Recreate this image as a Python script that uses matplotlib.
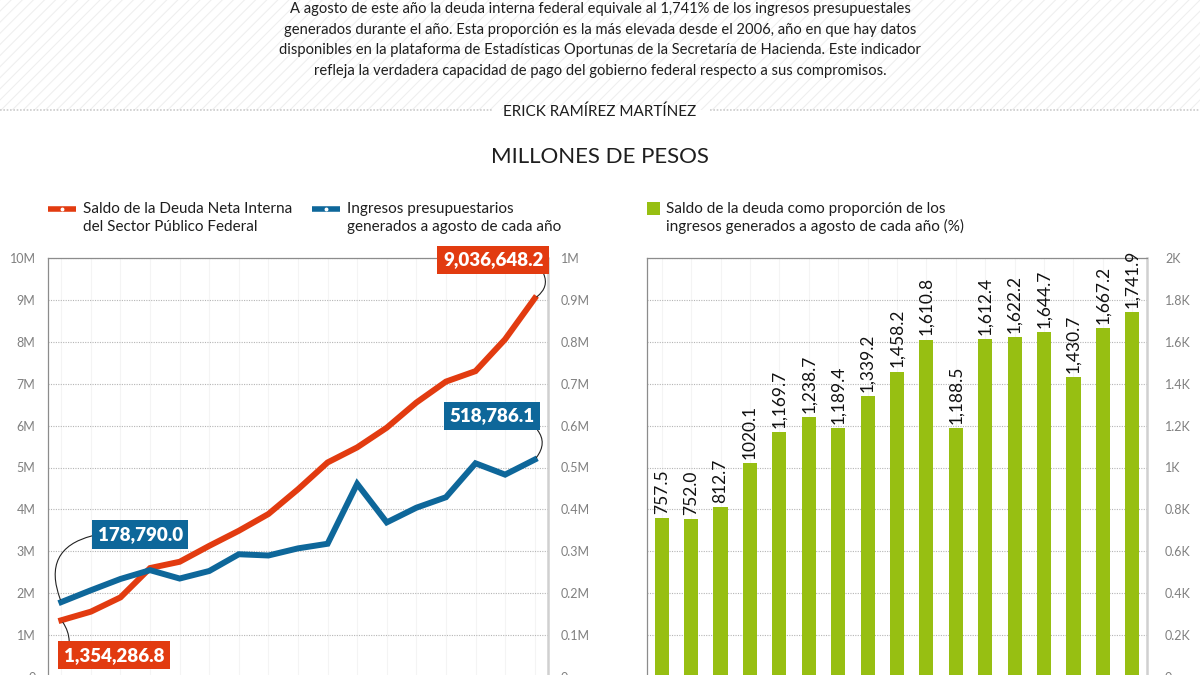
import matplotlib
matplotlib.use("Agg")
import matplotlib.pyplot as plt
from matplotlib import font_manager
from matplotlib.patches import Rectangle
from matplotlib.lines import Line2D

# narrow humanist sans if we have it, DejaVu as fallback
installed = {f.name for f in font_manager.fontManager.ttflist}
main_font = 'Lato' if 'Lato' in installed else 'DejaVu Sans'
plt.rcParams['font.family'] = [main_font, 'DejaVu Sans']
plt.rcParams['hatch.linewidth'] = 0.8

# data (2006 - 2022)
years = list(range(2006, 2023))
deuda = [1354286.8, 1560000, 1900000, 2600000, 2750000, 3130000, 3490000, 3890000,
         4480000, 5120000, 5480000, 5950000, 6550000, 7050000, 7300000, 8060000, 9036648.2]
ingresos = [178790.0, 207000, 234000, 255000, 235000, 253000, 293000, 290000,
            307000, 318000, 461000, 369000, 404000, 429000, 510000, 483000, 518786.1]
proporcion = [757.5, 752.0, 812.7, 1020.1, 1169.7, 1238.7, 1189.4, 1339.2, 1458.2,
              1610.8, 1188.5, 1612.4, 1622.2, 1644.7, 1430.7, 1667.2, 1741.9]
bar_labels = ['757.5', '752.0', '812.7', '1020.1', '1,169.7', '1,238.7', '1,189.4', '1,339.2',
              '1,458.2', '1,610.8', '1,188.5', '1,612.4', '1,622.2', '1,644.7', '1,430.7',
              '1,667.2', '1,741.9']
left_ticks = [0, 1e6, 2e6, 3e6, 4e6, 5e6, 6e6, 7e6, 8e6, 9e6, 10e6]
left_labels = ['0', '1M', '2M', '3M', '4M', '5M', '6M', '7M', '8M', '9M', '10M']
right_ticks = [0, 1e5, 2e5, 3e5, 4e5, 5e5, 6e5, 7e5, 8e5, 9e5, 1e6]
right_labels = ['0', '0.1M', '0.2M', '0.3M', '0.4M', '0.5M', '0.6M', '0.7M', '0.8M', '0.9M', '1M']
bar_ticks = [0, 200, 400, 600, 800, 1000, 1200, 1400, 1600, 1800, 2000]
bar_tick_labels = ['0', '0.2K', '0.4K', '0.6K', '0.8K', '1K', '1.2K', '1.4K', '1.6K', '1.8K', '2K']

RED = '#e23b10'
BLUE = '#0e679a'
GREEN = '#97bf12'
TICK = '#808080'
INK = '#1e1e1e'

W, H = 1200, 675
fig = plt.figure(figsize=(12, 6.75), dpi=100)
fig.patch.set_facecolor('white')


def fx(px):
    return px / W


def fy(py):
    return 1 - py / H


# hatched header band
band = Rectangle((0, fy(110)), 1, 110 / H, transform=fig.transFigure, facecolor='white',
                 edgecolor='#efefef', hatch='///', lw=0, zorder=0)
fig.add_artist(band)

intro = ("A agosto de este año la deuda interna federal equivale al 1,741% de los ingresos presupuestales\n"
         "generados durante el año. Esta proporción es la más elevada desde el 2006, año en que hay datos\n"
         "disponibles en la plataforma de Estadísticas Oportunas de la Secretaría de Hacienda. Este indicador\n"
         "refleja la verdadera capacidad de pago del gobierno federal respecto a sus compromisos.")
fig.text(0.5, fy(40), intro, ha='center', va='center', fontsize=10.6, color=INK,
         linespacing=1.62)

# byline with dotted rule
fig.add_artist(Line2D([0, fx(492)], [fy(110), fy(110)], transform=fig.transFigure,
                      color='#cccccc', lw=1.2, ls=(0, (1, 1))))
fig.add_artist(Line2D([fx(710), 1], [fy(110), fy(110)], transform=fig.transFigure,
                      color='#cccccc', lw=1.2, ls=(0, (1, 1))))
fig.text(0.5, fy(112), 'ERICK RAMÍREZ MARTÍNEZ', ha='center', va='center', fontsize=11,
         color=INK)

fig.text(0.5, fy(157), 'MILLONES DE PESOS', ha='center', va='center', fontsize=16,
         color=INK)

# legends
fig.add_artist(Line2D([fx(48), fx(76)], [fy(209), fy(209)], transform=fig.transFigure,
                      color=RED, lw=4, solid_capstyle='butt'))
fig.add_artist(Line2D([fx(62)], [fy(209)], transform=fig.transFigure, marker='o',
                      markersize=1.8, color='white', lw=0))
fig.text(fx(83), fy(218), 'Saldo de la Deuda Neta Interna\ndel Sector Público Federal',
         ha='left', va='center', fontsize=11, color=INK, linespacing=1.3)
fig.add_artist(Line2D([fx(312), fx(340)], [fy(209), fy(209)], transform=fig.transFigure,
                      color=BLUE, lw=4, solid_capstyle='butt'))
fig.add_artist(Line2D([fx(326)], [fy(209)], transform=fig.transFigure, marker='o',
                      markersize=1.8, color='white', lw=0))
fig.text(fx(347), fy(218), 'Ingresos presupuestarios\ngenerados a agosto de cada año',
         ha='left', va='center', fontsize=11, color=INK, linespacing=1.3)
fig.add_artist(Rectangle((fx(647), fy(215)), 13 / W, 13 / H, transform=fig.transFigure,
                         facecolor=GREEN, lw=0))
fig.text(fx(666), fy(218), 'Saldo de la deuda como proporción de los\ningresos generados a agosto de cada año (%)',
         ha='left', va='center', fontsize=11, color=INK, linespacing=1.3)


def style_axes(ax):
    ax.spines['bottom'].set_visible(False)
    ax.spines['left'].set_color('#8c8c8c')
    ax.spines['top'].set_color('#8c8c8c')
    ax.spines['left'].set_linewidth(0.9)
    ax.spines['top'].set_linewidth(0.9)
    ax.spines['right'].set_color('#d0d0d0')
    ax.spines['right'].set_linewidth(1.8)
    ax.tick_params(length=0, labelsize=9, labelcolor=TICK)
    ax.set_xticks(range(len(years)))
    ax.tick_params(axis='x', labelbottom=False)
    ax.grid(axis='y', color='#b5b5b5', ls=(0, (1, 1.2)), lw=0.8)
    ax.grid(axis='x', color='#f4f4f4', lw=0.8)
    ax.set_axisbelow(True)


# left: lines on twin axes
ax1 = fig.add_axes([fx(48), -2 / H, 500 / W, 419 / H])
style_axes(ax1)
ax1.set_xlim(-0.45, 16.45)
ax1.set_ylim(0, 10e6)
ax1.set_yticks(left_ticks)
ax1.set_yticklabels(left_labels)
ax1.tick_params(axis='y', pad=9)
x = list(range(len(years)))
ax1.plot(x, deuda, color=RED, lw=4.3, solid_joinstyle='miter', zorder=4)

ax2 = ax1.twinx()
ax2.set_ylim(0, 1e6)
ax2.set_yticks(right_ticks)
ax2.set_yticklabels(right_labels)
ax2.tick_params(length=0, labelsize=9, labelcolor=TICK, pad=9)
for s in ax2.spines.values():
    s.set_visible(False)
ax2.plot(x, ingresos, color=BLUE, lw=4.3, solid_joinstyle='miter', zorder=3)


def callout(ax, xy, xytext, text, color, relpos, rad):
    ax.annotate(text, xy=xy, xytext=xytext, ha='center', va='center', fontsize=13.5,
                fontweight='heavy', color='white', annotation_clip=False, zorder=6,
                bbox=dict(boxstyle='square,pad=0.3', fc=color, ec='none'),
                arrowprops=dict(arrowstyle='-', color='#222222', lw=0.8, relpos=relpos,
                                connectionstyle='arc3,rad=%s' % rad, shrinkA=0, shrinkB=2))


callout(ax1, (16, deuda[-1]), (14.6, 9.96e6), '9,036,648.2', RED, (0.97, 0), -0.5)
callout(ax2, (0, ingresos[0]), (2.67, 0.340e6), '178,790.0', BLUE, (0, 0.5), 0.6)
callout(ax2, (16, ingresos[-1]), (14.56, 0.6229e6), '518,786.1', BLUE, (0.97, 0), -0.5)
callout(ax1, (0, deuda[0]), (1.79, 0.52e6), '1,354,286.8', RED, (0.05, 1), 0.2)

# right: bars
ax3 = fig.add_axes([fx(647), -2 / H, 500 / W, 419 / H])
style_axes(ax3)
ax3.set_xlim(-0.5, 16.5)
ax3.set_ylim(0, 2000)
ax3.bar(x, proporcion, width=0.48, color=GREEN, zorder=3)
ax3.set_yticks(bar_ticks)
ax3.set_yticklabels(bar_tick_labels)
ax3.yaxis.tick_right()
ax3.tick_params(axis='y', pad=13)
for xi, v, lab in zip(x, proporcion, bar_labels):
    ax3.text(xi, v + 20, lab, rotation=90, ha='center', va='bottom', fontsize=12.5,
             color='#111111', zorder=5, clip_on=False)

fig.savefig('out.png', dpi=100)
